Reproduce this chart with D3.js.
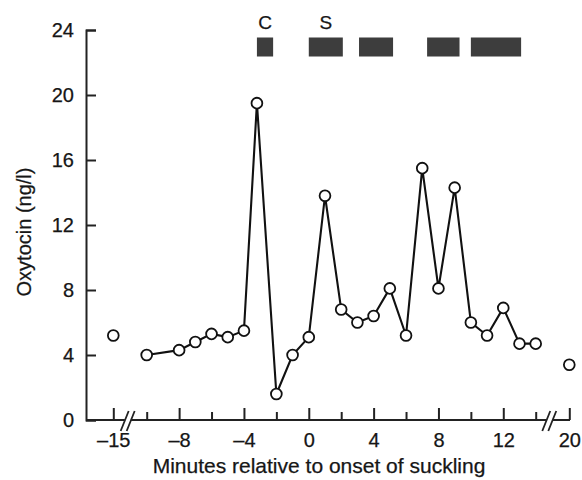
<!DOCTYPE html>
<html>
<head>
<meta charset="utf-8">
<script src="https://cdn.jsdelivr.net/npm/d3@7"></script>
<style>
    body { margin: 0; background: #fff; }
    text { font-family: "Liberation Sans", Arial, sans-serif; fill: #161616; stroke: #161616; stroke-width: 0.25px; }
</style>
</head>
<body>
<svg id="chart" width="582" height="480"></svg>
<script>
// data
var minutes = [-10, -8, -7, -6, -5, -4, -3.2, -2, -1, 0, 1, 2, 3, 4, 5, 6, 7, 8, 9, 10, 11, 12, 13, 14];
var oxytocin = [4.0, 4.3, 4.8, 5.3, 5.1, 5.5, 19.5, 1.6, 4.0, 5.1, 13.8, 6.8, 6.0, 6.4, 8.1, 5.2, 15.5, 8.1, 14.3, 6.0, 5.2, 6.9, 4.7, 4.7];
var loneMinutes = [-15, 20];
var loneOxytocin = [5.2, 3.4];
var barStarts = [-3.2, 0, 3.1, 7.3, 10];
var barEnds = [-2.2, 2.1, 5.2, 9.3, 13.1];
var barLabels = ["C", "S", "", "", ""];
var xMajorTicks = [-15, -8, -4, 0, 4, 8, 12, 20];
var xMinorTicks = [-10, -6, -2, 2, 6, 10, 14];
var yTicks = [0, 4, 8, 12, 16, 20, 24];

var style = {
    left: 86,
    right: 570,
    top: 30,
    bottom: 420,
    font: 20,
    ink: "#222"
};

var svg = d3.select("#chart");

// broken axis: -15 and 20 sit beyond the breaks
var x = d3.scaleLinear()
    .domain([-15, -10, 14, 20])
    .range([113.3, 146.7, 535.7, 569.3]);

var y = d3.scaleLinear()
    .domain([0, 24])
    .range([style.bottom, style.top]);

var dash = function(d) {
    return d < 0 ? "\u2013" + Math.abs(d) : String(d);
};

// y axis
var yAxis = svg.append("g")
    .attr("transform", "translate(" + style.left + ",0)")
    .call(d3.axisLeft(y).tickValues(yTicks).tickSize(-10).tickPadding(12));

yAxis.select(".domain").attr("stroke", style.ink).attr("stroke-width", 2);
yAxis.selectAll(".tick line").attr("stroke", style.ink).attr("stroke-width", 2);
yAxis.selectAll(".tick text").attr("font-size", style.font).attr("font-family", null);

// x axis, major and minor ticks
var xAxis = svg.append("g")
    .attr("transform", "translate(0," + style.bottom + ")")
    .call(d3.axisBottom(x).tickValues(xMajorTicks).tickSize(-12).tickPadding(13).tickFormat(dash));

xAxis.select(".domain").remove();
xAxis.selectAll(".tick line").attr("stroke", style.ink).attr("stroke-width", 2);
xAxis.selectAll(".tick text").attr("font-size", style.font).attr("font-family", null);

var xMinor = svg.append("g")
    .attr("transform", "translate(0," + style.bottom + ")")
    .call(d3.axisBottom(x).tickValues(xMinorTicks).tickSize(-8).tickFormat(""));

xMinor.select(".domain").remove();
xMinor.selectAll(".tick line").attr("stroke", style.ink).attr("stroke-width", 2);

svg.append("line")
    .attr("x1", style.left)
    .attr("x2", style.right)
    .attr("y1", style.bottom)
    .attr("y2", style.bottom)
    .attr("stroke", style.ink)
    .attr("stroke-width", 2);

// break marks
var drawBreak = function(cx) {
    var g = svg.append("g").attr("transform", "translate(" + cx + "," + style.bottom + ")");
    g.append("polygon")
        .attr("points", "-7,8 -1,-8 5,-8 -1,8")
        .attr("fill", "#fff");
    [-4, 2].forEach(function(off) {
        g.append("line")
            .attr("x1", off - 4).attr("y1", 11)
            .attr("x2", off + 4).attr("y2", -9)
            .attr("stroke", style.ink)
            .attr("stroke-width", 1.8);
    });
};
drawBreak(x(-12.7));
drawBreak(x(16.6));

// axis titles
svg.append("text")
    .attr("x", 319)
    .attr("y", 473)
    .attr("text-anchor", "middle")
    .attr("font-size", 21)
    .text("Minutes relative to onset of suckling");

svg.append("text")
    .attr("transform", "translate(31,232) rotate(-90)")
    .attr("text-anchor", "middle")
    .attr("font-size", style.font)
    .text("Oxytocin (ng/l)");

// suckling / cry bars
svg.selectAll(".bar")
    .data(barStarts)
    .enter()
    .append("rect")
    .attr("x", function(d) { return x(d); })
    .attr("width", function(d, i) { return x(barEnds[i]) - x(d); })
    .attr("y", 37.5)
    .attr("height", 19)
    .attr("fill", "#3d3d3d");

svg.selectAll(".barLabel")
    .data(barStarts)
    .enter()
    .append("text")
    .attr("x", function(d, i) { return (x(d) + x(barEnds[i])) / 2; })
    .attr("y", 29)
    .attr("text-anchor", "middle")
    .attr("font-size", 19)
    .text(function(d, i) { return barLabels[i]; });

// series line
var points = minutes.map(function(m, i) { return [m, oxytocin[i]]; });

svg.append("path")
    .datum(points)
    .attr("fill", "none")
    .attr("stroke", "#111")
    .attr("stroke-width", 2.1)
    .attr("d", d3.line()
        .x(function(d) { return x(d[0]); })
        .y(function(d) { return y(d[1]); }));

var allPoints = points.concat(loneMinutes.map(function(m, i) { return [m, loneOxytocin[i]]; }));

svg.selectAll(".dot")
    .data(allPoints)
    .enter()
    .append("circle")
    .attr("cx", function(d) { return x(d[0]); })
    .attr("cy", function(d) { return y(d[1]); })
    .attr("r", 5.4)
    .attr("fill", "#fff")
    .attr("stroke", "#111")
    .attr("stroke-width", 1.8);
</script>
</body>
</html>
